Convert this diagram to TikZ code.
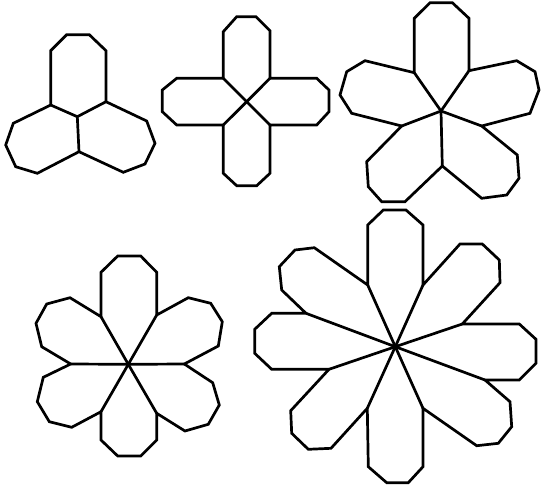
\documentclass[tikz,border=0pt]{standalone}
\usepackage{tikz}
\usetikzlibrary{calc}

\tikzset{
  petal/.style={draw=black, line width=2.7pt, line join=miter},
}

\begin{document}
\begin{tikzpicture}[x=1pt, y=-1pt]
    \useasboundingbox (0,0) rectangle (541,488);

    % three petals
    \coordinate (c3a) at (77.3,116.7);
    \coordinate (c3b) at (79,151.7);
    \draw[petal] (50.7,105) -- (50.7,50.7) -- (66.7,34.7) -- (89.3,34.7) -- (106,50.7) -- (106,101.7)
        -- (146.7,121) -- (155,143.3) -- (145,164) -- (123.3,172.3) -- (c3b)
        -- (37.3,173.3) -- (15.7,166.7) -- (5.7,145) -- (13.3,123.3) -- cycle;
    \draw[petal] (50.7,105) -- (c3a) -- (106,101.7);
    \draw[petal] (c3a) -- (c3b);

    % four petals
    \coordinate (c4) at (246.7,101.7);
    \draw[petal] (223.3,78.3) -- (223.3,31.7) -- (236.7,16.7) -- (256,16.7) -- (270,30.7) -- (270,78.3)
        -- (316.7,78.3) -- (329,90) -- (329,111.7) -- (316.7,125) -- (270,125)
        -- (270,173.3) -- (256.7,185.7) -- (236.7,185.7) -- (223.3,173.3) -- (223.3,125)
        -- (176.7,125) -- (162.3,111.7) -- (162.3,90) -- (176.7,78.3) -- cycle;
    \foreach \p in {(223.3,78.3), (270,78.3), (270,125), (223.3,125)}
        \draw[petal] (c4) -- \p;

    % five petals
    \coordinate (c5) at (441,111);
    \draw[petal] (414.3,72.7) -- (414.3,18.3) -- (430,2.7) -- (452.3,2.7) -- (469,18.3) -- (469,70.7)
        -- (516.7,60.7) -- (535,71.7) -- (539,90) -- (530,113.3) -- (481.7,126)
        -- (517.3,155) -- (519,178.3) -- (506.7,195) -- (481.7,198.3) -- (442.3,166)
        -- (405,201.7) -- (381.7,201.7) -- (368.3,186.7) -- (366.7,161.7) -- (401.7,126)
        -- (351.7,113.3) -- (340,95) -- (346.7,71.7) -- (365,60.7) -- cycle;
    \foreach \p in {(414.3,72.7), (469,70.7), (481.7,126), (442.3,166), (401.7,126)}
        \draw[petal] (c5) -- \p;

    % six petals
    \coordinate (c6) at (128.3,364.3);
    \draw[petal] (101,316.7) -- (101,272.3) -- (117.7,256) -- (140.7,256) -- (156.7,272.3) -- (156.7,315)
        -- (188.3,297.7) -- (210.7,303.3) -- (222.3,321.7) -- (218.3,346) -- (184.3,364)
        -- (212.7,382.7) -- (219.3,405) -- (208.3,424.3) -- (185,431) -- (156.7,413.3)
        -- (156.7,440) -- (140.7,456) -- (117.7,456) -- (101,440) -- (101,411.7)
        -- (71.7,427.3) -- (49.3,421.7) -- (37.3,401.7) -- (43.3,377.3) -- (70.7,364)
        -- (41.7,346.7) -- (36,323.3) -- (46.7,304) -- (70,297.7) -- cycle;
    \foreach \p in {(101,316.7), (156.7,315), (184.3,364), (156.7,413.3), (101,411.7), (70.7,364)}
        \draw[petal] (c6) -- \p;

    % eight petals
    \coordinate (c8) at (395.3,346.7);
    \draw[petal] (367.7,285) -- (367.7,225) -- (383.3,210) -- (406,210) -- (423,225) -- (423,285)
        -- (460,244) -- (482.3,244) -- (499.3,260) -- (500,282.7) -- (462.3,324)
        -- (519.3,324) -- (536,339.3) -- (536,363.3) -- (519.3,380) -- (485,380)
        -- (510,401.7) -- (511.7,426.7) -- (498.3,443.3) -- (476.7,445.7) -- (423,408.3)
        -- (423,466.7) -- (408.3,482.7) -- (386.7,482.7) -- (368.3,466.7) -- (367.3,408.3)
        -- (331,448.3) -- (308.3,449.3) -- (291.7,433.3) -- (290.7,410.7) -- (329,369.3)
        -- (271.7,369.3) -- (254.7,353.3) -- (254.7,329.3) -- (271.7,313.3) -- (306,313.3)
        -- (281.7,290) -- (279.3,266.7) -- (295,250) -- (314.3,247.7) -- cycle;
    \foreach \p in {(367.7,285), (423,285), (462.3,324), (485,380), (423,408.3), (367.3,408.3), (329,369.3), (306,313.3)}
        \draw[petal] (c8) -- \p;
\end{tikzpicture}
\end{document}
